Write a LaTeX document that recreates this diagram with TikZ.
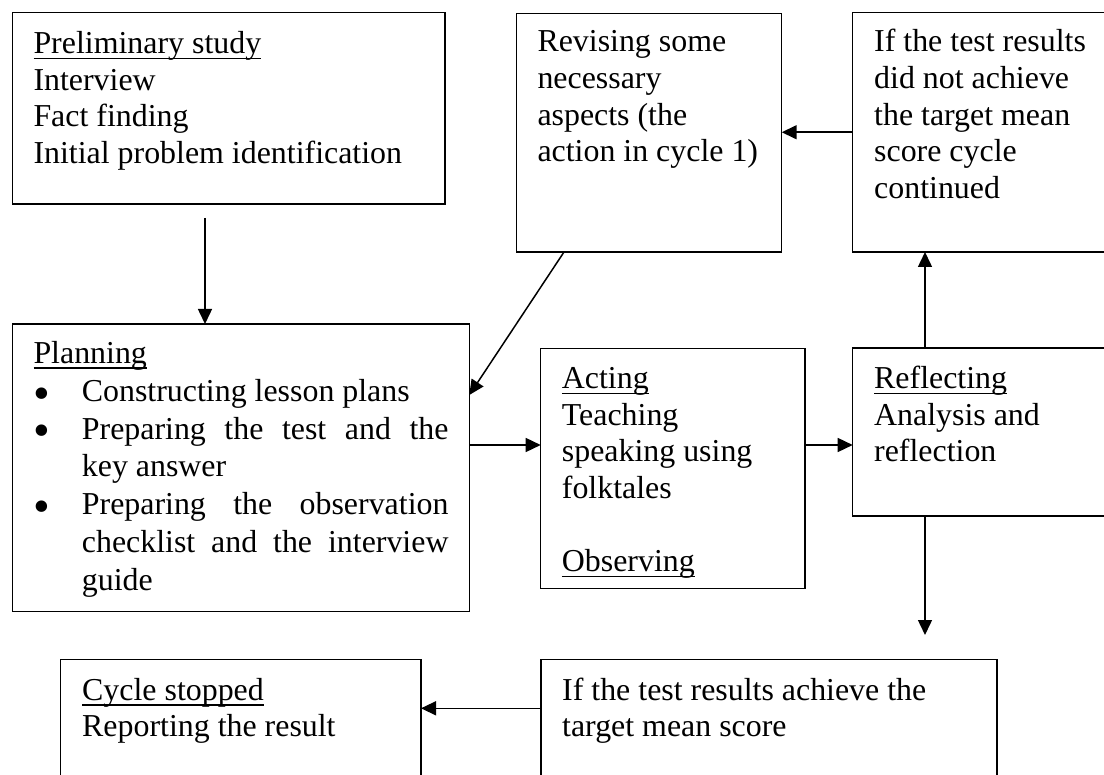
\documentclass[tikz,border=0pt]{standalone}
\usepackage{fontspec}
\setmainfont{Liberation Serif}
\usetikzlibrary{arrows.meta,calc}
\newsavebox\myulbox
\newcommand\myul[1]{\sbox\myulbox{#1}\rlap{\rule[-5.6pt]{\wd\myulbox}{1.6pt}}\usebox\myulbox}
\newcommand\myfs{\fontsize{31.9pt}{36.6pt}\selectfont}
\newcommand\myfsp{\fontsize{31.9pt}{37.8pt}\selectfont}
\newcommand\bul{\makebox[48.4pt][l]{\raisebox{-7.9pt}[0pt][0pt]{\scalebox{1.5}{\textbullet}}}}
\begin{document}
\begin{tikzpicture}[x=1pt,y=-1pt,
  box/.style={draw, line width=1.5pt, rectangle, anchor=north west, inner sep=0pt, outer sep=0pt},
  txt/.style={anchor=north west, inner sep=0pt, align=left, font=\myfs},
  arr/.style={line width=1.5pt, -{Triangle[length=15pt,width=14pt]}}]
\useasboundingbox (0,0) rectangle (1104,775);
\fill[white] (0,0) rectangle (1104,775);
\clip (0,0) rectangle (1104,775);

% boxes
\node[box, minimum width=432.3pt, minimum height=191.3pt] (A) at (12.7,12.7) {};
\node[box, minimum width=265pt,   minimum height=238.7pt] (B) at (516.7,13.3) {};
\node[box, minimum width=270pt,   minimum height=239.5pt] (C) at (852.7,12.5) {};
\node[box, minimum width=457pt,   minimum height=287.7pt] (D) at (12.3,324) {};
\node[box, minimum width=264.3pt, minimum height=240pt]   (E) at (540.7,348.3) {};
\node[box, minimum width=270pt,   minimum height=168pt]   (F) at (852.7,348) {};
\node[box, minimum width=360.3pt, minimum height=130pt]   (G) at (60.7,659.5) {};
\node[box, minimum width=456pt,   minimum height=130pt]   (H) at (541,659.5) {};

% texts
\node[txt] (At) at ([shift={(20.6,15)}]A.north west)
  {\strut\myul{Preliminary study}\\Interview\\Fact finding\\Initial problem identification};
\node[txt] (Bt) at ([shift={(20.6,12.8)}]B.north west)
  {\strut Revising some\\necessary\\aspects (the\\action in cycle 1)};
\node[txt] (Ct) at ([shift={(21.3,13.6)}]C.north west)
  {\strut If the test results\\did not achieve\\the target mean\\score cycle\\continued};
\node[txt, font=\myfsp] (Dt) at ([shift={(21,12.8)}]D.north west)
  {\strut\myul{Planning}\\
   \bul Constructing lesson plans\\
   \bul\makebox[366.6pt][s]{Preparing the test and the}\\
   \hspace*{48.4pt}key answer\\
   \bul\makebox[366.6pt][s]{Preparing the observation}\\
   \hspace*{48.4pt}\makebox[366.6pt][s]{checklist and the interview}\\
   \hspace*{48.4pt}guide};
\node[txt] (Et) at ([shift={(21,14.4)}]E.north west)
  {\strut\myul{Acting}\\Teaching\\speaking using\\folktales\\[36.6pt]\myul{Observing}};
\node[txt] (Ft) at ([shift={(21.3,14.7)}]F.north west)
  {\strut\myul{Reflecting}\\Analysis and\\reflection};
\node[txt] (Gt) at ([shift={(21.3,14.9)}]G.north west)
  {\strut\myul{Cycle stopped}\\Reporting the result};
\node[txt] (Ht) at ([shift={(21,14.9)}]H.north west)
  {\strut If the test results achieve the\\target mean score};

% helper coordinates
\coordinate (a1) at (205,218);
\coordinate (rowDE) at (0,445);
\coordinate (colF) at (925,0);
\coordinate (fend) at (925,635);
\coordinate (rowHG) at (0,708.3);

% connectors
\draw[arr] (a1) -- (a1 |- D.north);
\draw[arr] ([xshift=47.3pt]B.south west) -- ([yshift=-71pt]D.north east);
\draw[arr] (C.west) -- (C.west -| B.east);
\draw[arr] (D.east |- rowDE) -- (E.west |- rowDE);
\draw[arr] (E.east |- rowDE) -- (F.west |- rowDE);
\draw[arr] (F.north -| colF) -- (C.south -| colF);
\draw[arr] (F.south -| colF) -- (fend);
\draw[arr] (H.west |- rowHG) -- (G.east |- rowHG);
\end{tikzpicture}
\end{document}
